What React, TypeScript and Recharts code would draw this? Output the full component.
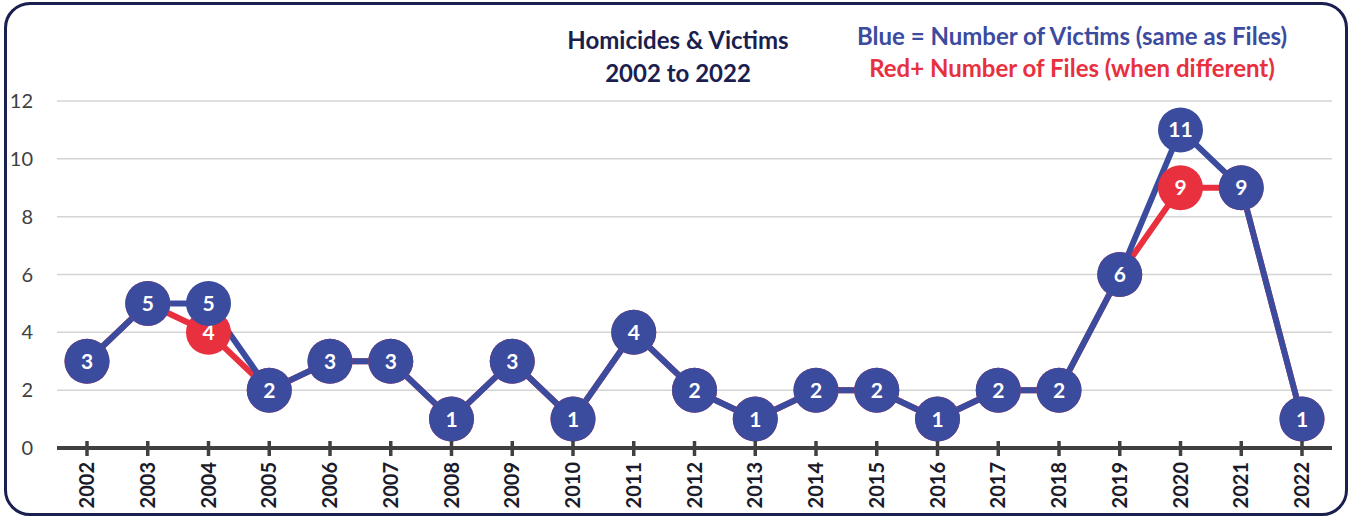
import React from 'react';
import { LineChart, Line, XAxis, YAxis, CartesianGrid } from 'recharts';

// ─── Data ───────────────────────────────────────────────────────────────────
const YEARS = [
  '2002', '2003', '2004', '2005', '2006', '2007', '2008', '2009', '2010', '2011', '2012',
  '2013', '2014', '2015', '2016', '2017', '2018', '2019', '2020', '2021', '2022',
];
const VICTIMS = [3, 5, 5, 2, 3, 3, 1, 3, 1, 4, 2, 1, 2, 2, 1, 2, 2, 6, 11, 9, 1];
const FILES = [3, 5, 4, 2, 3, 3, 1, 3, 1, 4, 2, 1, 2, 2, 1, 2, 2, 6, 9, 9, 1];
const Y_TICKS = [0, 2, 4, 6, 8, 10, 12];

const TITLE = ['Homicides & Victims', '2002 to 2022'];
const NOTE_BLUE = 'Blue = Number of Victims (same as Files)';
const NOTE_RED = 'Red+ Number of Files (when different)';

const BLUE = '#3b4c9f';
const RED = '#e8303f';
const NAVY = '#1b1f4f';
const FONT = 'Lato, "Open Sans", sans-serif';

const chartData = YEARS.map((year, i) => ({ year, victims: VICTIMS[i], files: FILES[i] }));

// circle marker with its value written inside
const makeDot = (fill: string, key: 'victims' | 'files') => (props: any) => {
  const { cx, cy, index, payload } = props;
  if (cx == null || cy == null) return <g key={`${key}-${index}`} />;
  return (
    <g key={`${key}-${index}`}>
      <circle cx={cx} cy={cy} r={22.5} fill={fill} />
      <text
        x={cx}
        y={cy}
        dy="0.36em"
        textAnchor="middle"
        fill="#fff"
        fontSize={21}
        fontWeight={700}
        fontFamily={FONT}
      >
        {payload[key]}
      </text>
    </g>
  );
};

// year tick: a short mark across the axis and a rotated bold label
const YearTick = (props: any) => {
  const { x, y, payload } = props;
  return (
    <g>
      <line x1={x} x2={x} y1={y - 7} y2={y + 8} stroke="#404040" strokeWidth={3.5} />
      <g transform={`translate(${x},${y + 14}) rotate(-90)`}>
        <text
          x={0}
          y={0}
          dy="0.36em"
          textAnchor="end"
          fill="#1a1a2a"
          fontSize={20}
          fontWeight={700}
          fontFamily={FONT}
        >
          {payload.value}
        </text>
      </g>
    </g>
  );
};

const textStyle: React.CSSProperties = {
  position: 'absolute',
  fontFamily: FONT,
  fontWeight: 700,
  fontSize: 24,
  lineHeight: '24px',
  whiteSpace: 'nowrap',
  transform: 'translateX(-50%)',
};

export default function App() {
  return (
    <div style={{ position: 'absolute', left: 0, top: 0, width: 1352, height: 518, background: '#fff' }}>
      <div
        style={{
          position: 'absolute',
          left: 4,
          top: 2,
          width: 1344,
          height: 514,
          border: `3px solid ${NAVY}`,
          borderRadius: 26,
          boxSizing: 'border-box',
        }}
      />
      <div style={{ ...textStyle, left: 678, top: 28, color: NAVY }}>{TITLE[0]}</div>
      <div style={{ ...textStyle, left: 678, top: 61, color: NAVY }}>{TITLE[1]}</div>
      <div style={{ ...textStyle, left: 1072, top: 24, color: BLUE }}>{NOTE_BLUE}</div>
      <div style={{ ...textStyle, left: 1072, top: 56, color: RED }}>{NOTE_RED}</div>

      <div style={{ position: 'absolute', left: 0, top: 0 }}>
        <LineChart
          width={1352}
          height={518}
          data={chartData}
          margin={{ top: 101, right: 20, left: 7, bottom: 10 }}
        >
          <CartesianGrid horizontal vertical={false} stroke="#d4d4d4" strokeWidth={1.5} />
          <XAxis
            dataKey="year"
            interval={0}
            padding={{ left: 30, right: 30 }}
            axisLine={{ stroke: '#404040', strokeWidth: 4 }}
            tickLine={false}
            tickSize={0}
            tickMargin={0}
            height={60}
            tick={<YearTick />}
          />
          <YAxis
            domain={[0, 12]}
            ticks={Y_TICKS}
            width={50}
            axisLine={false}
            tickLine={false}
            tickSize={0}
            tickMargin={24}
            tick={{ fill: '#404040', fontSize: 20, fontFamily: FONT }}
          />
          <Line
            dataKey="files"
            stroke={RED}
            strokeWidth={6}
            dot={makeDot(RED, 'files')}
            activeDot={false}
            isAnimationActive={false}
          />
          <Line
            dataKey="victims"
            stroke={BLUE}
            strokeWidth={6}
            dot={makeDot(BLUE, 'victims')}
            activeDot={false}
            isAnimationActive={false}
          />
        </LineChart>
      </div>
    </div>
  );
}
